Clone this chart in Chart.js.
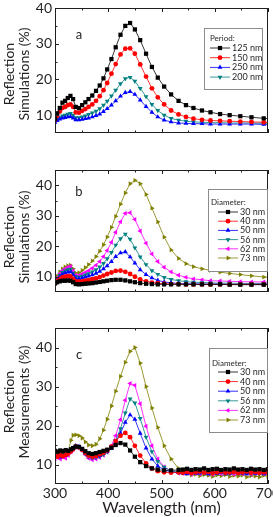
<!DOCTYPE html>
<html>
<head>
<meta charset="utf-8">
<script src="https://cdn.jsdelivr.net/npm/chart.js@4.4.0/dist/chart.umd.min.js"></script>
<style>
body { margin: 0; background: #fff; overflow: hidden; width: 273px; height: 517px; position: relative; }
.panel { position: absolute; left: 0; width: 273px; }
</style>
</head>
<body>
<div class="panel" style="top:0;height:168px"><canvas id="chartA"></canvas></div>
<div class="panel" style="top:166px;height:161px"><canvas id="chartB"></canvas></div>
<div class="panel" style="top:324px;height:193px"><canvas id="chartC"></canvas></div>
<script>
// simulation grid (nm)
const wavelength = [300,304,309,314,319,324,329,334,339,345,351,357,363,370,377,384,391,398,406,414,423,432,441,450,460,471,482,493,505,518,532,546,560,576,592,610,628,648,669,692,716];

// panel a - period
const period125 = [9.0,10.5,12.0,13.5,14.0,14.8,15.4,14.5,12.3,12.0,12.8,13.6,14.5,15.5,16.8,18.3,20.3,22.8,25.7,29.0,32.5,35.0,35.8,34.0,31.0,27.2,23.5,20.5,18.0,15.8,14.0,12.8,12.0,11.3,10.8,10.3,10.0,9.7,9.4,9.1,8.9];
const period150 = [8.7,9.8,11.0,12.0,12.3,12.8,13.0,12.3,10.8,10.7,11.2,11.7,12.3,13.0,14.0,15.3,17.0,19.0,21.6,24.3,27.0,28.6,28.7,27.2,24.2,20.8,17.5,15.0,13.0,11.3,10.2,9.5,9.0,8.7,8.5,8.4,8.3,8.2,8.1,8.0,8.0];
const period250 = [8.0,8.5,8.9,9.2,9.3,9.5,9.6,9.2,8.7,8.7,8.8,9.0,9.2,9.5,9.9,10.3,11.0,11.8,12.8,14.0,15.3,16.3,16.6,15.8,14.2,12.4,10.8,9.5,8.6,8.1,7.8,7.7,7.6,7.6,7.5,7.5,7.5,7.5,7.5,7.4,7.4];
const period200 = [8.2,8.8,9.3,9.8,10.0,10.3,10.5,10.0,9.3,9.3,9.5,9.8,10.2,10.6,11.1,11.8,12.8,13.9,15.4,17.0,18.8,20.2,20.6,19.5,17.5,15.2,13.0,11.3,10.0,9.1,8.6,8.3,8.1,8.0,7.9,7.9,7.8,7.8,7.8,7.7,7.7];

// panel b - diameter, simulations
const sim30 = [7.8,8.2,8.5,8.7,8.7,8.8,8.7,8.2,7.6,7.5,7.6,7.7,7.8,7.9,8.1,8.3,8.5,8.7,8.9,9.0,9.0,8.8,8.5,8.2,7.9,7.7,7.6,7.5,7.5,7.5,7.5,7.5,7.5,7.5,7.5,7.5,7.4,7.4,7.4,7.4,7.4];
const sim40 = [7.9,8.6,9.3,9.8,10.0,10.2,10.1,9.3,8.5,8.4,8.5,8.7,8.9,9.2,9.5,9.9,10.4,10.9,11.4,11.9,12.0,11.6,10.9,10.0,9.1,8.5,8.1,7.9,7.7,7.6,7.6,7.5,7.5,7.5,7.5,7.5,7.5,7.5,7.5,7.5,7.5];
const sim50 = [7.8,9.0,10.0,10.8,11.2,11.5,11.6,10.6,9.5,9.4,9.6,9.9,10.2,10.6,11.1,11.8,12.6,13.6,15.0,16.6,17.8,18.2,16.5,14.5,12.3,10.7,9.6,8.8,8.3,8.0,7.8,7.7,7.7,7.6,7.6,7.6,7.5,7.5,7.5,7.5,7.5];
const sim56 = [7.8,9.2,10.5,11.4,11.9,12.3,12.5,11.2,10.0,9.9,10.2,10.6,11.0,11.6,12.3,13.2,14.4,15.9,18.0,20.4,22.5,24.0,22.3,19.5,16.5,14.0,12.0,10.8,9.8,9.1,8.7,8.4,8.2,8.1,8.0,7.9,7.9,7.8,7.8,7.8,7.8];
const sim62 = [8.0,9.6,11.0,12.0,12.6,13.1,13.4,11.9,10.5,10.4,10.9,11.4,12.0,12.8,13.8,15.0,16.6,18.6,21.3,24.6,28.0,30.8,31.0,28.8,25.0,21.0,17.5,15.0,13.1,11.6,10.5,9.8,9.3,9.0,8.7,8.6,8.5,8.4,8.3,8.3,8.2];
const sim73 = [8.5,10.2,11.6,12.6,13.2,13.6,13.8,12.6,11.2,11.3,12.1,13.0,14.0,15.2,16.6,18.4,20.5,23.0,26.2,29.8,33.8,37.5,40.5,41.6,40.5,37.0,32.5,28.0,23.0,18.8,16.0,14.3,13.3,12.6,12.1,11.5,11.1,10.7,10.3,9.9,9.6];

// panel c - diameter, measurements
const measWavelength = [300,305,310,315,320,325,330,334,339,345,351,357,363,370,377,384,391,398,406,414,423,432,441,450,460,471,482,493,505,518,532,540,548,556,564,572,580,588,596,604,612,620,628,636,644,652,660,668,676,684,692,700,708];
const meas30 = [13.5,13.3,13.6,13.4,13.7,13.5,13.9,14.2,14.6,14.5,14.0,13.4,12.9,12.7,12.9,13.2,13.5,13.8,14.3,15.0,15.5,15.1,13.6,12.0,10.6,9.6,9.0,8.7,8.5,8.5,8.6,8.7,8.9,8.6,8.8,8.7,9.0,8.6,8.8,8.9,8.6,8.8,8.7,9.0,8.7,8.8,8.6,8.9,8.7,8.8,8.6,8.8,8.7];
const meas40 = [12.3,12.0,12.4,12.1,12.5,12.8,13.4,14.0,14.6,14.4,13.8,13.0,12.3,12.0,12.2,12.6,13.0,13.6,14.6,16.0,17.4,18.1,17.0,14.8,12.3,10.3,9.0,8.3,8.0,7.9,8.0,7.9,8.1,7.8,8.0,8.2,7.9,8.1,7.8,8.0,8.2,7.9,8.0,8.1,7.8,8.0,8.2,7.9,8.1,7.8,8.0,7.9,8.1];
const meas50 = [12.0,12.2,11.9,12.3,12.4,12.9,13.5,14.2,14.8,14.6,13.9,13.0,12.2,11.9,12.0,12.3,12.8,13.3,14.2,15.8,18.0,20.8,22.7,21.6,18.0,14.2,11.4,9.6,8.6,8.1,7.9,7.8,7.6,7.9,7.7,7.8,8.0,7.6,7.8,7.7,7.9,7.6,7.8,8.0,7.7,7.8,7.6,7.9,7.7,7.8,7.6,7.8,7.7];
const meas56 = [12.5,12.2,12.6,12.3,12.7,13.1,13.6,14.1,14.6,14.4,13.7,12.8,12.0,11.7,11.8,12.1,12.6,13.2,14.3,16.2,19.2,23.2,26.8,25.8,21.8,17.0,13.3,10.8,9.3,8.4,8.0,7.9,8.1,7.8,7.9,8.0,7.7,8.0,7.9,7.8,8.1,7.9,7.7,8.0,7.8,7.9,8.1,7.8,7.9,7.7,8.0,7.9,7.8];
const meas62 = [11.5,11.8,11.4,11.9,11.6,12.3,13.2,13.8,14.4,14.3,13.5,12.5,11.6,11.2,11.4,11.8,12.4,13.2,14.8,17.4,21.5,26.5,30.8,30.3,25.6,19.8,14.8,11.4,9.4,8.3,7.8,7.7,7.9,7.5,7.8,7.6,7.9,7.7,7.5,7.8,7.6,7.9,7.7,7.5,7.8,7.6,7.8,7.5,7.7,7.9,7.6,7.7,7.5];
const meas73 = [12.8,12.6,13.0,12.7,12.9,13.4,16.2,17.5,17.6,17.4,16.8,15.8,15.0,14.8,15.2,16.6,18.8,21.6,25.0,28.8,32.6,36.2,39.0,40.0,36.0,30.0,24.5,19.5,14.8,11.4,9.0,8.2,7.6,7.3,7.5,7.1,7.4,7.2,6.9,7.3,7.1,7.4,6.9,7.2,7.0,7.3,6.8,7.1,7.0,6.8,7.2,6.9,7.0];

const xTicks = [300, 400, 500, 600, 700];
const yTicks = [10, 20, 30, 40];

const FONT = "Lato, 'Open Sans', sans-serif";
const TEXT = "#231f20";

function series(label, xs, ys, color, style, rotation) {
    return {
        label: label,
        data: xs.map((x, i) => ({ x: x, y: ys[i] })),
        borderColor: color,
        backgroundColor: color,
        borderWidth: 0.8,
        pointStyle: style,
        rotation: rotation || 0,
        pointRadius: style === "rect" ? 3 : (style === "circle" ? 2.4 : 2.8),
        pointBorderWidth: 0,
        tension: 0,
        clip: 0
    };
}

function diameterSets(xs, d30, d40, d50, d56, d62, d73) {
    return [
        series("30 nm", xs, d30, "#000000", "rect"),
        series("40 nm", xs, d40, "#ff0000", "circle"),
        series("50 nm", xs, d50, "#0000ff", "triangle"),
        series("56 nm", xs, d56, "#008080", "triangle", 180),
        series("62 nm", xs, d62, "#ff00ff", "triangle", 270),
        series("73 nm", xs, d73, "#808000", "triangle", 90)
    ];
}

// frame, inward ticks, side titles, panel letter and boxed legend
const decor = {
    id: "decor",
    afterDraw(chart, args, o) {
        const ctx = chart.ctx;
        const a = chart.chartArea;
        const sx = chart.scales.x, sy = chart.scales.y;
        ctx.save();
        ctx.strokeStyle = TEXT;
        ctx.lineWidth = 1;
        ctx.strokeRect(a.left + 0.5, a.top + 0.5, a.right - a.left - 1, a.bottom - a.top - 1);

        ctx.beginPath();
        for (let i = 0; i < xTicks.length; i++) {
            const list = [xTicks[i]];
            if (i < xTicks.length - 1) list.push((xTicks[i] + xTicks[i + 1]) / 2);
            list.forEach((v, k) => {
                const px = Math.round(sx.getPixelForValue(v)) + 0.5;
                const len = k === 0 ? 4 : 2.5;
                ctx.moveTo(px, a.bottom); ctx.lineTo(px, a.bottom - len);
                ctx.moveTo(px, a.top); ctx.lineTo(px, a.top + len);
            });
        }
        for (let v = 10; v < sy.max; v += 5) {
            const py = Math.round(sy.getPixelForValue(v)) + 0.5;
            const len = v % 10 === 0 ? 4 : 2.5;
            ctx.moveTo(a.left, py); ctx.lineTo(a.left + len, py);
        }
        ctx.stroke();

        ctx.fillStyle = TEXT;
        ctx.textAlign = "center";
        ctx.textBaseline = "middle";
        ctx.font = "14px " + FONT;
        o.titles.forEach((t, i) => {
            ctx.save();
            ctx.translate(o.titleX[i], o.titleY);
            ctx.rotate(-Math.PI / 2);
            ctx.fillText(t, 0, 0);
            ctx.restore();
        });
        ctx.font = "13px " + FONT;
        ctx.fillText(o.letter, o.letterX, o.letterY);

        // legend box
        const L = o.legend;
        ctx.fillStyle = "#fff";
        ctx.fillRect(L.x, L.y, L.w, L.h);
        ctx.strokeStyle = "#8c8c8c";
        ctx.strokeRect(L.x + 0.5, L.y + 0.5, L.w, L.h);
        ctx.fillStyle = TEXT;
        ctx.textAlign = "left";
        ctx.font = "8px " + FONT;
        ctx.fillText(L.title, L.titleX, L.titleY);
        ctx.font = "9px " + FONT;
        chart.data.datasets.forEach((ds, i) => {
            const y = L.rowY + i * L.step;
            ctx.strokeStyle = ds.borderColor;
            ctx.lineWidth = 0.8;
            ctx.beginPath();
            ctx.moveTo(L.lineX0, y); ctx.lineTo(L.lineX1, y);
            ctx.stroke();
            ctx.fillStyle = ds.backgroundColor;
            Chart.helpers.drawPoint(ctx, {
                pointStyle: ds.pointStyle, rotation: ds.rotation,
                radius: ds.pointRadius, borderWidth: 0
            }, (L.lineX0 + L.lineX1) / 2, y);
            ctx.fillStyle = TEXT;
            ctx.fillText(ds.label, L.textX, y);
        });
        ctx.restore();
    }
};

function makeChart(id, datasets, opts) {
    const showX = opts.showX;
    return new Chart(document.getElementById(id), {
        type: "line",
        data: { datasets: datasets },
        plugins: [decor],
        options: {
            responsive: true,
            maintainAspectRatio: false,
            animation: false,
            events: [],
            layout: { padding: { top: opts.padTop, bottom: showX ? 0 : opts.padBottom, left: 0, right: 5 } },
            scales: {
                x: {
                    type: "linear", min: 300, max: 700,
                    display: showX,
                    grid: { display: false, drawTicks: false },
                    border: { display: false },
                    ticks: { font: { size: 14, family: FONT }, color: TEXT, padding: 1, maxRotation: 0 },
                    afterBuildTicks: s => { s.ticks = xTicks.map(v => ({ value: v })); },
                    afterFit: s => { s.height = 33; s.paddingLeft = 0; s.paddingRight = 0; },
                    title: { display: true, text: "Wavelength (nm)", font: { size: 16, family: FONT }, color: TEXT, padding: { top: 0, bottom: 0 } }
                },
                y: {
                    min: 5, max: opts.yMax,
                    grid: { display: false, drawTicks: false },
                    border: { display: false },
                    ticks: { font: { size: 14, family: FONT }, color: TEXT, padding: 3 },
                    afterBuildTicks: s => { s.ticks = yTicks.map(v => ({ value: v })); },
                    afterFit: s => { s.width = 55; s.paddingTop = 0; s.paddingBottom = 0; }
                }
            },
            plugins: {
                legend: { display: false },
                tooltip: { enabled: false },
                decor: opts.decor
            }
        }
    });
}

const chartA = makeChart("chartA", [
    series("125 nm", wavelength, period125, "#000000", "rect"),
    series("150 nm", wavelength, period150, "#ff0000", "circle"),
    series("250 nm", wavelength, period250, "#0000ff", "triangle"),
    series("200 nm", wavelength, period200, "#008080", "triangle", 180)
], {
    showX: false, padTop: 8, padBottom: 2, yMax: 40,
    decor: {
        titles: ["Reflection", "Simulations (%)"], titleX: [9, 24], titleY: 74,
        letter: "a", letterX: 79, letterY: 35,
        legend: { x: 204, y: 28, w: 58, h: 61, title: "Period:", titleX: 210, titleY: 38,
                  rowY: 48, step: 9.7, lineX0: 210, lineX1: 230, textX: 232 }
    }
});

const chartB = makeChart("chartB", diameterSets(wavelength, sim30, sim40, sim50, sim56, sim62, sim73), {
    showX: false, padTop: 0, padBottom: 2, yMax: 45,
    decor: {
        titles: ["Reflection", "Simulations (%)"], titleX: [9, 24], titleY: 71,
        letter: "b", letterX: 79, letterY: 26,
        legend: { x: 208, y: 23, w: 59, h: 82, title: "Diameter:", titleX: 211, titleY: 36,
                  rowY: 46, step: 9.2, lineX0: 218, lineX1: 238, textX: 240 }
    }
});

const chartC = makeChart("chartC", diameterSets(measWavelength, meas30, meas40, meas50, meas56, meas62, meas73), {
    showX: true, padTop: 1, padBottom: 0, yMax: 45,
    decor: {
        titles: ["Reflection", "Measurements (%)"], titleX: [9, 24], titleY: 78,
        letter: "c", letterX: 79, letterY: 31,
        legend: { x: 209, y: 24, w: 58, h: 84, title: "Diameter:", titleX: 212, titleY: 39,
                  rowY: 48, step: 9.6, lineX0: 218, lineX1: 238, textX: 240 }
    }
});
</script>
</body>
</html>
